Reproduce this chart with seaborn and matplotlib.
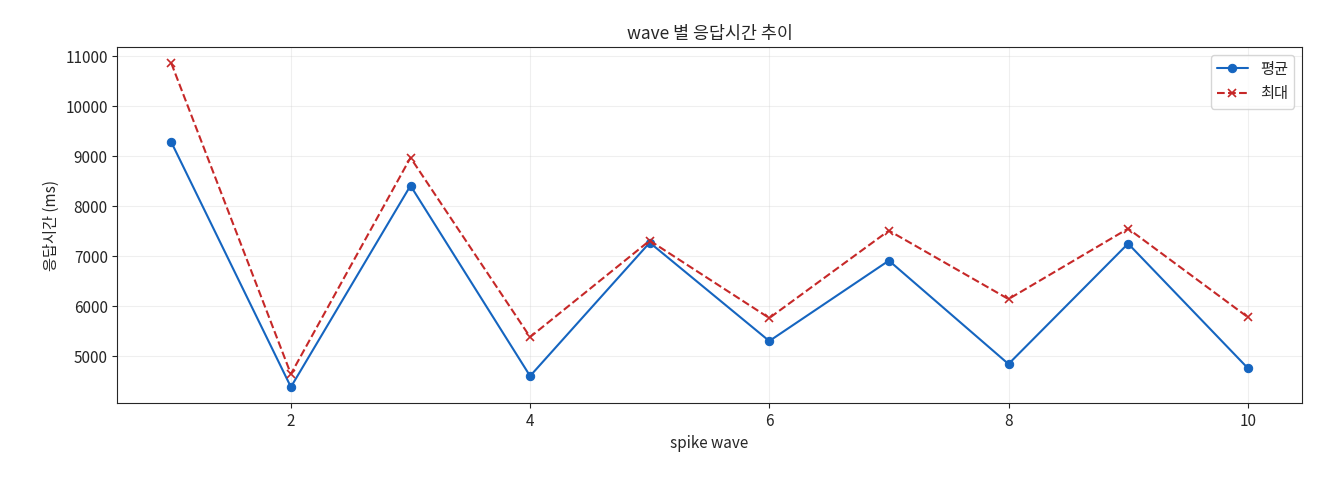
import matplotlib
matplotlib.use("Agg")
import matplotlib.pyplot as plt
import seaborn as sns
import pandas as pd

waves = [1, 2, 3, 4, 5, 6, 7, 8, 9, 10]
mean_ms = [9280, 4380, 8410, 4600, 7270, 5300, 6910, 4840, 7250, 4760]
max_ms = [10860, 4640, 8970, 5380, 7310, 5760, 7510, 6140, 7550, 5780]

sns.set_style("ticks")
plt.rcParams['font.family'] = ['Noto Sans CJK KR', 'DejaVu Sans']
plt.rcParams['axes.unicode_minus'] = False

df = pd.DataFrame({"wave": waves, "mean": mean_ms, "max": max_ms})
fig, ax = plt.subplots(figsize=(13.2, 4.8), dpi=100)
sns.lineplot(data=df, x="wave", y="mean", ax=ax, color="#1565c0", marker="o",
             markersize=6, markeredgecolor="#1565c0", linewidth=1.5, label="평균")
sns.lineplot(data=df, x="wave", y="max", ax=ax, color="#c62828", marker="x",
             markersize=6, markeredgecolor="#c62828", markeredgewidth=1.2,
             linestyle="--", linewidth=1.5, label="최대")
ax.set_title("wave 별 응답시간 추이", fontsize=12.5)
ax.set_xlabel("spike wave", fontsize=11)
ax.set_ylabel("응답시간 (ms)", fontsize=11)
ax.tick_params(labelsize=11)
ax.grid(True, alpha=0.3)
ax.legend(loc="upper right", fontsize=11)
fig.subplots_adjust(left=0.089, right=0.986, top=0.902, bottom=0.160)
fig.savefig("out.png", dpi=100)
